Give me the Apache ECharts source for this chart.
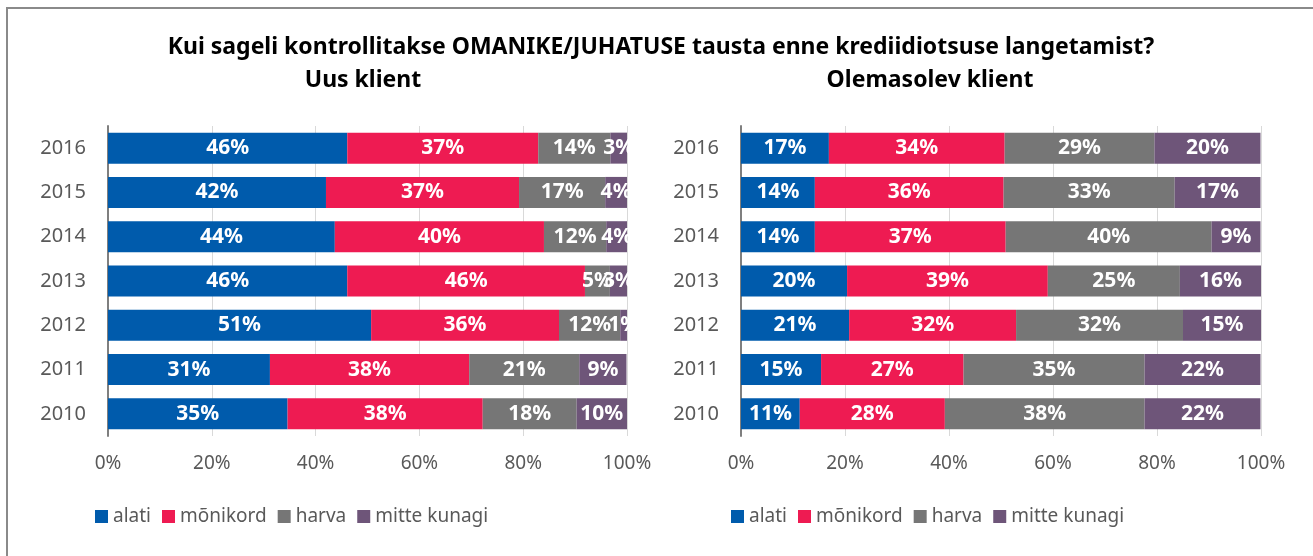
<!DOCTYPE html>
<html><head><meta charset="utf-8">
<script src="https://cdn.jsdelivr.net/npm/echarts@6/dist/echarts.min.js"></script>
<style>
html,body{margin:0;padding:0;background:#fff;}
#frame{position:absolute;left:6px;top:7px;width:1320px;height:560px;border-top:2px solid #8a8a8a;border-left:2px solid #8a8a8a;}
#c{position:absolute;left:0;top:0;width:1313px;height:556px;}
</style></head>
<body><div id="frame"></div><div id="c"></div>
<script>
const years = ['2010','2011','2012','2013','2014','2015','2016'];
const seriesNames = ['alati','mõnikord','harva','mitte kunagi'];
const xTicks = ['0%','20%','40%','60%','80%','100%'];
// Uus klient (2010..2016)
const newAlati     = [34.6, 31.2, 50.7, 46.1, 43.7, 42.0, 46.1];
const newMonikord  = [37.6, 38.4, 36.2, 45.8, 40.3, 37.2, 36.8];
const newHarva     = [18.1, 21.2, 11.8,  4.8, 12.0, 16.6, 13.9];
const newMitte     = [ 9.8,  9.1,  1.3,  3.3,  4.0,  4.2,  3.2];
// Olemasolev klient (2010..2016)
const oldAlati     = [11.3, 15.4, 20.8, 20.4, 14.2, 14.2, 16.9];
const oldMonikord  = [27.9, 27.4, 32.1, 38.6, 36.7, 36.3, 33.8];
const oldHarva     = [38.4, 34.8, 32.1, 25.4, 39.6, 32.9, 28.8];
const oldMitte     = [22.3, 22.3, 15.0, 15.6,  9.4, 16.5, 20.4];
const colors = ['#005BAC','#EE1B52','#767676','#6E5579'];

const FONT = 'Noto Sans';
const chart = echarts.init(document.getElementById('c'));
function mk(name, data, idx, ci){
  return {
    name: name, type:'bar', stack:'s'+idx, xAxisIndex: idx, yAxisIndex: idx,
    data: data, barWidth:'70%',
    itemStyle:{color: colors[ci]},
    label:{show:true, position:'inside', color:'#fff', fontFamily:FONT, fontWeight:'bold', fontSize:21,
      formatter: p => Math.round(p.value) + '%'},
    emphasis:{disabled:true}
  };
}
const xAx = i => ({
  type:'value', gridIndex:i, min:0, max:100, interval:20,
  axisLabel:{formatter: v => xTicks[v/20], color:'#595959', fontFamily:FONT, fontSize:19, margin:18},
  splitLine:{lineStyle:{color:'#d9d9d9', width:1}},
  axisLine:{show:false}, axisTick:{show:false}
});
const yAx = i => ({
  type:'category', gridIndex:i, data: years,
  axisLabel:{color:'#595959', fontFamily:FONT, fontSize:20, margin:22},
  axisLine:{show:true, lineStyle:{color:'#7f7f7f', width:2}}, axisTick:{show:false}
});
const legendStyle = {color:'#595959', fontFamily:FONT, fontSize:19};
chart.setOption({
  animation:false,
  textStyle:{fontFamily:FONT},
  title:[
    {text:'Kui sageli kontrollitakse OMANIKE/JUHATUSE tausta enne krediidiotsuse langetamist?', left:656, top:31, textAlign:'center',
      textStyle:{fontFamily:FONT, fontWeight:'bold', fontSize:23, color:'#000'}},
    {text:'Uus klient', left:358, top:64, textAlign:'center', textStyle:{fontFamily:FONT, fontWeight:'bold', fontSize:23, color:'#000'}},
    {text:'Olemasolev klient', left:925, top:64, textAlign:'center', textStyle:{fontFamily:FONT, fontWeight:'bold', fontSize:23, color:'#000'}}
  ],
  legend:[
    {data: seriesNames, left:90, top:502, itemWidth:13, itemHeight:13, itemGap:11, icon:'rect',
      textStyle:legendStyle, selectedMode:false},
    {data: seriesNames, left:726, top:502, itemWidth:13, itemHeight:13, itemGap:11, icon:'rect',
      textStyle:legendStyle, selectedMode:false}
  ],
  grid:[
    {left:108, right:686, top:126, bottom:120},
    {left:741, right:52, top:126, bottom:120}
  ],
  xAxis:[xAx(0), xAx(1)],
  yAxis:[yAx(0), yAx(1)],
  series:[
    mk(seriesNames[0], newAlati, 0, 0), mk(seriesNames[1], newMonikord, 0, 1),
    mk(seriesNames[2], newHarva, 0, 2), mk(seriesNames[3], newMitte, 0, 3),
    mk(seriesNames[0], oldAlati, 1, 0), mk(seriesNames[1], oldMonikord, 1, 1),
    mk(seriesNames[2], oldHarva, 1, 2), mk(seriesNames[3], oldMitte, 1, 3)
  ]
});
</script></body></html>
